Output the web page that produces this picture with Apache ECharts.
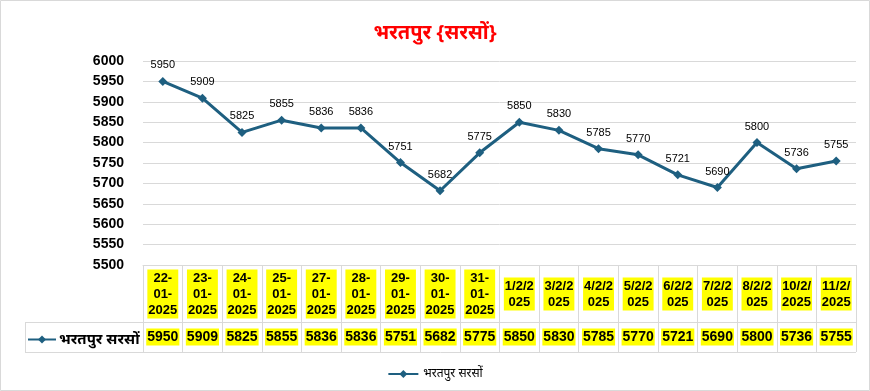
<!DOCTYPE html>
<html>
<head>
<meta charset="utf-8">
<script src="https://cdn.jsdelivr.net/npm/echarts@6/dist/echarts.min.js"></script>
<style>
html,body{margin:0;padding:0;background:#fff;}
#c{width:870px;height:391px;}
</style>
</head>
<body>
<div id="c"></div>
<script>
const titleText = 'भरतपुर {सरसों}';
const seriesName = 'भरतपुर सरसों';
const categories = ['22-01-2025','23-01-2025','24-01-2025','25-01-2025','27-01-2025','28-01-2025','29-01-2025','30-01-2025','31-01-2025','1/2/2025','3/2/2025','4/2/2025','5/2/2025','6/2/2025','7/2/2025','8/2/2025','10/2/2025','11/2/2025'];
const values = [5950,5909,5825,5855,5836,5836,5751,5682,5775,5850,5830,5785,5770,5721,5690,5800,5736,5755];
const yMin = 5500, yMax = 6000, yStep = 50;

function wrapCat(s){
  if (s.indexOf('-') >= 0) return s.split('-').join('-\n');
  return s.slice(0,5) + '\n' + s.slice(5);
}

const GL = 143, GR = 856, GT = 61, GB = 265;
const lineColor = '#1e5f80';
const border = '#d9d9d9';
const chart = echarts.init(document.getElementById('c'));
chart.setOption({
  animation: false,
  textStyle: {fontFamily: 'Liberation Sans, Arial, sans-serif'},
  title: {
    text: titleText, left: 'center', top: 18,
    textStyle: {color: '#ff0000', fontSize: 20, fontWeight: 'bold', fontFamily: 'Noto Sans, sans-serif'}
  },
  grid: {left: GL, right: 870 - GR, top: GT, bottom: 391 - GB, containLabel: false},
  legend: [
    {
      data: [seriesName], left: 27, top: 332, padding: 0, itemWidth: 28, itemHeight: 10, itemGap: 3,
      textStyle: {fontSize: 15, fontWeight: 'bold', color: '#000', fontFamily: 'Noto Sans, sans-serif', padding: [0,0,0,-2]}
    },
    {
      data: [seriesName], left: 'center', top: 363, itemWidth: 30, itemHeight: 10, itemGap: 4,
      textStyle: {fontSize: 12, color: '#000', fontFamily: 'Noto Sans, sans-serif'}
    }
  ],
  xAxis: [
    {
      type: 'category', data: categories, position: 'bottom', boundaryGap: true,
      axisLine: {show: true, lineStyle: {color: border, width: 1}},
      axisTick: {show: true, length: 87, lineStyle: {color: border}},
      axisLabel: {
        interval: 0, margin: 29, verticalAlign: 'middle',
        formatter: v => wrapCat(v),
        fontSize: 13, fontWeight: 'bold', color: '#000', lineHeight: 16,
        backgroundColor: '#ffff00', padding: [1, 1, 0, 1]
      }
    },
    {
      type: 'category', data: categories, position: 'bottom', offset: 57, boundaryGap: true,
      axisLine: {show: true, lineStyle: {color: border, width: 1}},
      axisTick: {show: false},
      axisLabel: {
        interval: 0, margin: 15, verticalAlign: 'middle',
        formatter: (v, i) => String(values[i]),
        fontSize: 14, fontWeight: 'bold', color: '#000',
        backgroundColor: '#ffff00', padding: [2, 1, 1, 1]
      }
    }
  ],
  yAxis: {
    type: 'value', min: yMin, max: yMax, interval: yStep,
    axisLine: {show: false}, axisTick: {show: false},
    axisLabel: {margin: 19, fontSize: 14, fontWeight: 'bold', color: '#000', formatter: v => String(v)},
    splitLine: {lineStyle: {color: border, width: 1}}
  },
  series: [{
    name: seriesName, type: 'line', data: values, xAxisIndex: 0,
    symbol: 'diamond', symbolSize: 9,
    lineStyle: {color: lineColor, width: 3},
    itemStyle: {color: lineColor},
    label: {show: true, position: 'top', distance: 6, fontSize: 11, color: '#000'}
  }],
  graphic: [
    {type: 'rect', shape: {x: 0.5, y: 0.5, width: 869, height: 390}, style: {fill: 'none', stroke: border, lineWidth: 1}, silent: true},
    {type: 'line', shape: {x1: 25, y1: 322.5, x2: GR, y2: 322.5}, style: {stroke: border, lineWidth: 1}, silent: true},
    {type: 'line', shape: {x1: 25, y1: 352.5, x2: GR, y2: 352.5}, style: {stroke: border, lineWidth: 1}, silent: true},
    {type: 'line', shape: {x1: 25.5, y1: 322, x2: 25.5, y2: 352}, style: {stroke: border, lineWidth: 1}, silent: true}
  ]
});
</script>
</body>
</html>
